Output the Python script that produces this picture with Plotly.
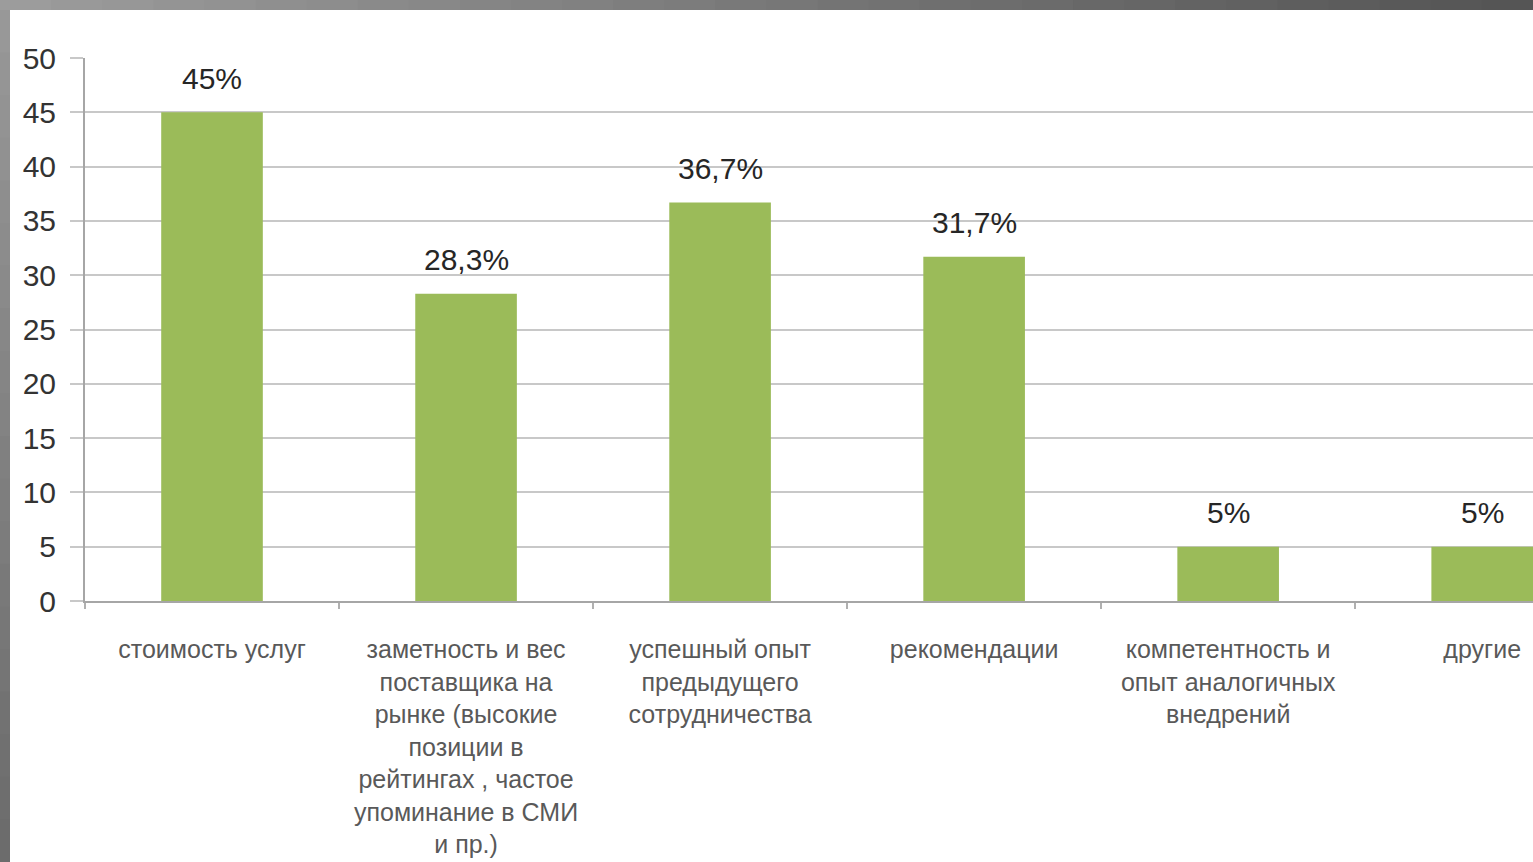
import plotly.graph_objects as go

categories = [
    "стоимость услуг",
    "заметность и вес<br>поставщика на<br>рынке (высокие<br>позиции в<br>рейтингах , частое<br>упоминание в СМИ<br>и пр.)",
    "успешный опыт<br>предыдущего<br>сотрудничества",
    "рекомендации",
    "компетентность и<br>опыт аналогичных<br>внедрений",
    "другие",
]
values = [45, 28.3, 36.7, 31.7, 5, 5]
labels = ["45%", "28,3%", "36,7%", "31,7%", "5%", "5%"]
y_ticks = [0, 5, 10, 15, 20, 25, 30, 35, 40, 45, 50]

W, H = 1533, 862
L, R, T, B = 85, 0, 58, 261
PW, PH = W - L - R, H - T - B

def px_x(p):
    return (p - L) / PW

def px_y(p):
    return (H - B - p) / PH

fig = go.Figure()
fig.add_trace(go.Bar(
    x=categories,
    y=values,
    marker=dict(color="#9bbb59", line=dict(width=0)),
    width=0.4,
    hoverinfo="skip",
))

for c, v, t in zip(categories, values, labels):
    fig.add_annotation(x=c, y=v, text=t, showarrow=False, yanchor="middle",
                       yshift=34, font=dict(family="Liberation Sans", size=30, color="#262626"))

shapes = []
# gray frame: top band (gradient light -> dark), left band
n = 30
for k in range(n):
    x0 = W * k / n
    x1 = W * (k + 1) / n + 1
    c = int(0x9c - (0x9c - 0x55) * k / (n - 1))
    shapes.append(dict(type="rect", xref="paper", yref="paper",
                       x0=px_x(x0), x1=px_x(x1), y0=px_y(10), y1=px_y(0),
                       fillcolor=f"rgb({c},{c},{c})", line=dict(width=0), layer="above"))
m = 20
for k in range(m):
    y0 = 10 + (H - 10) * k / m
    y1 = 10 + (H - 10) * (k + 1) / m + 1
    c = int(0x98 - (0x98 - 0x6c) * k / (m - 1))
    shapes.append(dict(type="rect", xref="paper", yref="paper",
                       x0=px_x(0), x1=px_x(10), y0=px_y(y1), y1=px_y(y0),
                       fillcolor=f"rgb({c},{c},{c})", line=dict(width=0), layer="above"))

fig.update_layout(
    width=W, height=H,
    margin=dict(l=L, r=R, t=T, b=B, pad=0),
    paper_bgcolor="white",
    plot_bgcolor="white",
    showlegend=False,
    shapes=shapes,
    font=dict(family="Liberation Sans", color="#444444"),
    xaxis=dict(
        type="category",
        range=[-0.5, 5.2],
        tickson="boundaries",
        showgrid=False,
        showline=True, linecolor="#a6a6a6", linewidth=2,
        ticks="outside", ticklen=6, tickcolor="#b0b0b0", tickwidth=2,
        ticklabelstandoff=25,
        tickfont=dict(size=25, color="#595959"),
        zeroline=False,
        fixedrange=True,
    ),
    yaxis=dict(
        range=[0, 50],
        tickvals=y_ticks,
        showgrid=True, gridcolor="#c8c8c8", gridwidth=2,
        showline=True, linecolor="#a6a6a6", linewidth=2,
        ticks="outside", ticklen=13, tickcolor="#c8c8c8", tickwidth=2,
        ticklabelstandoff=8,
        tickfont=dict(size=30, color="#333333"),
        zeroline=False,
        fixedrange=True,
    ),
)

fig.write_html("out.html", config={"displayModeBar": False},
               post_script="document.body.style.margin='0';document.body.style.overflow='hidden';")
